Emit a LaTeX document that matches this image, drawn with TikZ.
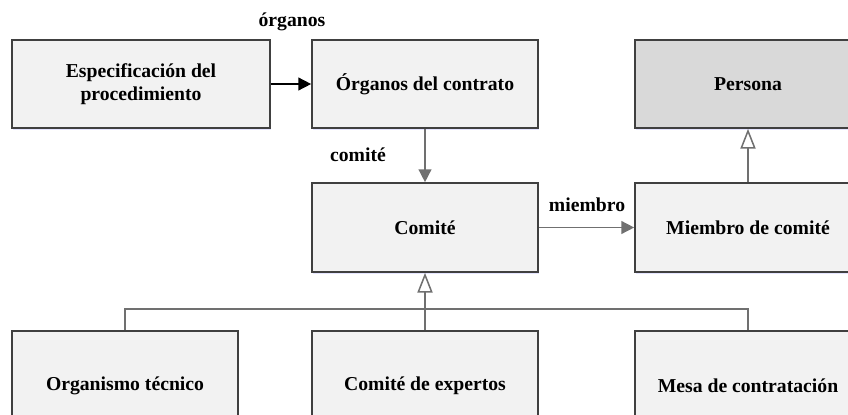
\documentclass[tikz,border=0pt]{standalone}
\usepackage{fontspec}
\setmainfont{Liberation Serif}
\usetikzlibrary{arrows.meta,shadows}

\definecolor{boxfill}{RGB}{242,242,242}
\definecolor{personafill}{RGB}{217,217,217}
\definecolor{boxline}{RGB}{64,64,64}
\definecolor{conline}{RGB}{112,112,112}

\begin{document}
\begin{tikzpicture}[
    x=0.03cm, y=-0.03cm,
    every node/.style={color=black, font=\fontsize{16.8}{20}\selectfont\bfseries},
    classbox/.style={draw=boxline, line width=1.4pt, fill=boxfill,
        minimum width=6.78cm, minimum height=2.64cm, align=center,
        drop shadow={fill=blue!10!white, shadow xshift=0.6pt, shadow yshift=-1.6pt, opacity=1}},
    assoc/.style={line width=1.3pt, draw=conline, -{Triangle[length=11pt, width=11pt, fill=conline]}},
    gen/.style={line width=1.3pt, draw=conline, -{Triangle[open, length=17pt, width=13pt, fill=white]}},
    plain line/.style={line width=1.3pt, draw=conline}
    ]

\clip (0,0) rectangle (848,414);

% top row
\node[classbox, minimum width=7.74cm] (spec) at (141,84)
        {Especificación del\\procedimiento};
\node[classbox] (organos) at (425,84) {Órganos del contrato};
\node[classbox, fill=personafill] (persona) at (748,84) {Persona};

% middle row
\node[classbox, minimum height=2.67cm] (comite) at (425,227.5) {Comité};
\node[classbox, minimum height=2.67cm] (miembro) at (748,227.5) {Miembro de comité};

% bottom row
\node[classbox, minimum height=3.3cm] (organismo) at (125,386) {Organismo técnico};
\node[classbox, minimum height=3.3cm] (expertos) at (425,386) {Comité de expertos};
\node[classbox, minimum height=3.3cm] (mesa) at (748,386) {Mesa de contratación};

% labels
\node (lblorganos) at (292,22) {órganos};
\node (lblcomite) at (358,155) {comité};
\node (lblmiembro) at (587,205) {miembro};

% associations
\draw[line width=1.3pt, -{Triangle[length=11pt, width=11pt]}] (spec) -- (organos);
\draw[assoc] (organos) -- (comite);
\draw[assoc] (comite) -- (miembro);

% generalizations
\coordinate (bus) at (425,309);
\draw[gen] (miembro) -- (persona);
\draw[plain line] (organismo.north) |- (bus) -| (mesa.north);
\draw[gen] (expertos) -- (comite);

\end{tikzpicture}
\end{document}
